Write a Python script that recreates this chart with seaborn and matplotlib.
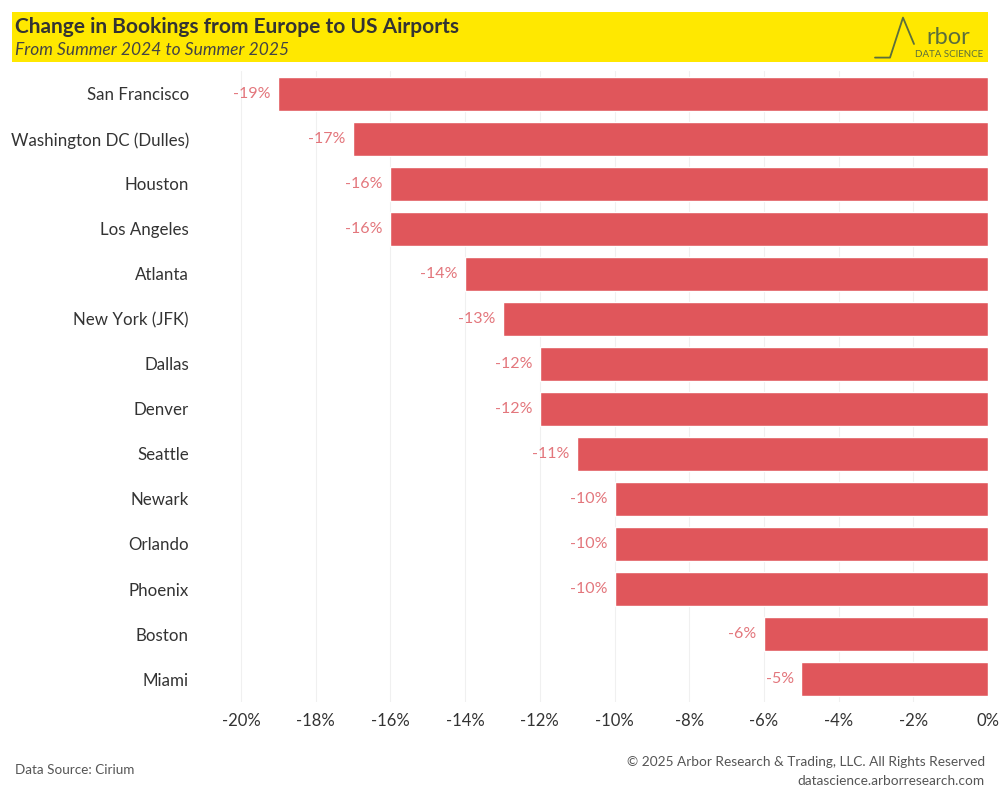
import matplotlib
matplotlib.use("Agg")
import matplotlib.pyplot as plt
import seaborn as sns
import pandas as pd

airports = ["San Francisco", "Washington DC (Dulles)", "Houston", "Los Angeles", "Atlanta",
            "New York (JFK)", "Dallas", "Denver", "Seattle", "Newark", "Orlando", "Phoenix",
            "Boston", "Miami"]
change = [-19, -17, -16, -16, -14, -13, -12, -12, -11, -10, -10, -10, -6, -5]
xticks = [-20, -18, -16, -14, -12, -10, -8, -6, -4, -2, 0]

sns.set_theme(style="white")
plt.rcParams['font.family'] = ['Lato', 'DejaVu Sans']

df = pd.DataFrame({"airport": airports, "change": change})

fig = plt.figure(figsize=(10, 8), dpi=100)
ax = fig.add_axes([0.2, 0.123, 0.788, 0.788])
sns.barplot(data=df, x="change", y="airport", color="#E0565B", width=0.76,
            saturation=1, ax=ax, orient="h")

ax.set_xlim(-21.1, 0)
ax.set_xticks(xticks)
ax.set_xticklabels([f"{t}%" for t in xticks], fontsize=12, color="#333333")
ax.tick_params(axis="y", labelsize=12.2, labelcolor="#333333", length=0, pad=8)
ax.tick_params(axis="x", length=0, pad=8)
ax.set_xlabel("")
ax.set_ylabel("")
for s in ax.spines.values():
    s.set_visible(False)
ax.grid(axis="x", color="#F0F0F0", linewidth=0.8)
ax.set_axisbelow(True)

for i, v in enumerate(change):
    ax.text(v - 0.2, i, f"{v}%", ha="right", va="center", fontsize=11.5, color="#E3767C")

# Banner
fig.patches.append(plt.Rectangle((0.012, 0.923), 0.976, 0.062, transform=fig.transFigure,
                                 facecolor="#FFE800", edgecolor="none", zorder=0))
fig.text(0.015, 0.966, "Change in Bookings from Europe to US Airports", fontsize=15,
         fontweight="bold", color="#333333", va="center", ha="left")
fig.text(0.015, 0.937, "From Summer 2024 to Summer 2025", fontsize=12.5, fontstyle="italic",
         color="#444444", va="center", ha="left")
# Logo
logo_c = "#5B6E3C"
fig.lines.append(plt.Line2D([0.875, 0.890, 0.903, 0.914],
                            [0.928, 0.928, 0.978, 0.945],
                            transform=fig.transFigure, color=logo_c, linewidth=1.3))
fig.text(0.948, 0.953, "rbor", fontsize=17, color=logo_c, va="center", ha="center")
fig.text(0.949, 0.932, "DATA SCIENCE", fontsize=7, color=logo_c, va="center", ha="center")

# Footer
fig.text(0.015, 0.037, "Data Source: Cirium", fontsize=9.7, color="#555555", va="center")
fig.text(0.985, 0.048, "\u00a9 2025 Arbor Research & Trading, LLC. All Rights Reserved",
         fontsize=9.8, color="#555555", va="center", ha="right")
fig.text(0.985, 0.024, "datascience.arborresearch.com", fontsize=9.8, color="#555555",
         va="center", ha="right")

fig.savefig("out.png", dpi=100)
